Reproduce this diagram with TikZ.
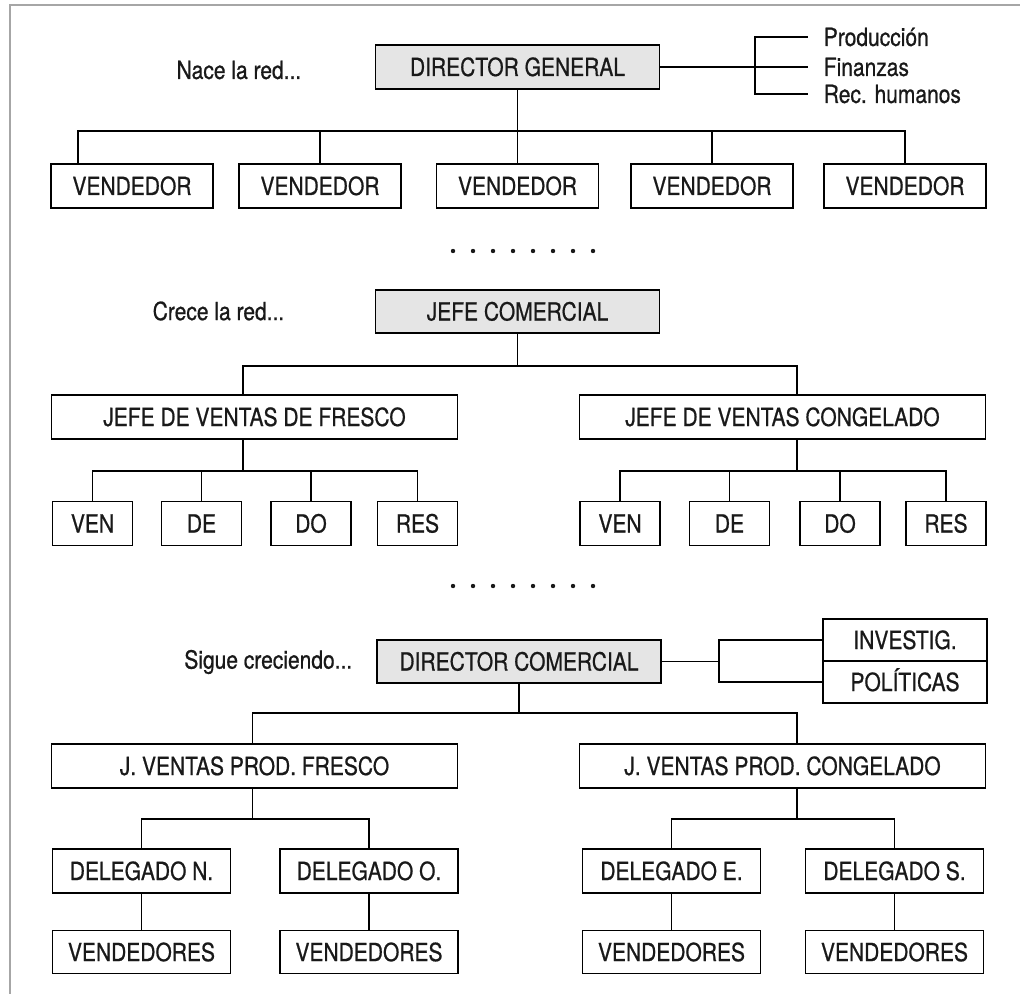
\documentclass[tikz,border=0pt]{standalone}
\usepackage{fontspec}
\setmainfont{TeX Gyre Heros}[FakeStretch=0.84, FakeBold=0.7]
\usepackage{tikz}
\usetikzlibrary{positioning,calc}

\begin{document}
\begin{tikzpicture}[
  x=0.5pt, y=-0.5pt,
  font=\fontsize{12.5}{15}\selectfont,
  line width=0.8pt,
  box/.style={draw, inner sep=0pt, text height=9pt, text depth=0pt, minimum height=22pt, text=black!90},
  cargo/.style={box, fill=black!10, minimum width=142pt},
  vend/.style={box, minimum width=81pt},
  jefe/.style={box, minimum width=203pt},
  sub/.style={box, minimum width=40pt},
  deleg/.style={box, minimum width=89pt},
  staff/.style={box, minimum width=82pt, minimum height=21pt},
  lbl/.style={anchor=east, inner sep=0pt, text=black!90},
  sidetx/.style={anchor=west, inner xsep=7.5pt, inner ysep=0pt, text=black!90},
]
\useasboundingbox (0,0) rectangle (1020,994);
\draw[black!35, line width=1pt] (1020,5) -- (10,5) -- (10,994);

% Nace la red
\node[lbl] (nace) at (302,70) {Nace la red...};
\node[cargo] (dg) at (517.5,67) {DIRECTOR GENERAL};
\coordinate (sj) at (755,67);
\node[sidetx] (prod) at (808,37) {Producción};
\node[sidetx] (fin) at (808,67) {Finanzas};
\node[sidetx] (rec) at (808,94) {Rec. humanos};
\draw (dg.east) -- (sj);
\foreach \n in {prod,fin,rec} { \draw (sj) |- (\n.west); }

\node[vend] (v1) at (132,186) {VENDEDOR};
\node[vend] (v2) at (320,186) {VENDEDOR};
\node[vend] (v3) at (517.5,186) {VENDEDOR};
\node[vend] (v4) at (712,186) {VENDEDOR};
\node[vend] (v5) at (905,186) {VENDEDOR};
\draw (dg.south) -- ++(0,41) -| ([xshift=-27pt]v1.north);
\foreach \n in {v2,v3,v4,v5} { \draw (dg.south) -- ++(0,41) -| (\n.north); }

\foreach \i in {0,...,7} { \fill[black!90] (453+20*\i,251) circle (1.1pt); }

% Crece la red
\node[lbl] (crece) at (285,311) {Crece la red...};
\node[cargo, minimum height=21.5pt] (jc) at (517.5,311.5) {JEFE COMERCIAL};
\node[jefe] (jvf) at (254.5,417) {JEFE DE VENTAS DE FRESCO};
\node[jefe] (jvc) at (782.5,417) {JEFE DE VENTAS CONGELADO};
\draw (jc.south) -- ++(0,32) -| ([xshift=-5.75pt]jvf.north);
\draw (jc.south) -- ++(0,32) -| ([xshift=7.25pt]jvc.north);

\node[sub] (fv1) at (92.5,523.5) {VEN};
\node[sub] (fv2) at (201.5,523.5) {DE};
\node[sub] (fv3) at (311,523.5) {DO};
\node[sub] (fv4) at (417.5,523.5) {RES};
\node[sub] (cv1) at (620,523.5) {VEN};
\node[sub] (cv2) at (729.5,523.5) {DE};
\node[sub] (cv3) at (840,523.5) {DO};
\node[sub] (cv4) at (946,523.5) {RES};
\foreach \n in {fv1,fv2,fv3,fv4} { \draw ([xshift=-5.75pt]jvf.south) -- ++(0,31) -| (\n.north); }
\foreach \n in {cv1,cv2,cv3,cv4} { \draw ([xshift=7.25pt]jvc.south) -- ++(0,31) -| (\n.north); }

\foreach \i in {0,...,7} { \fill[black!90] (453+20*\i,586) circle (1.1pt); }

% Sigue creciendo
\node[lbl] (sigue) at (353,662) {Sigue creciendo...};
\node[cargo, minimum height=21.5pt] (dc) at (519,661.5) {DIRECTOR COMERCIAL};
\coordinate (sk) at (719,661.5);
\node[staff] (inv) at (905,640) {INVESTIG.};
\node[staff] (pol) at (905,682) {POLÍTICAS};
\draw (dc.east) -- (sk);
\foreach \n in {inv,pol} { \draw (sk) |- (\n.west); }

\node[jefe] (jpf) at (254.5,766) {J. VENTAS PROD. FRESCO};
\node[jefe] (jpc) at (782.5,766) {J. VENTAS PROD. CONGELADO};
\draw (dc.south) -- ++(0,29) -| ([xshift=-1pt]jpf.north);
\draw (dc.south) -- ++(0,29) -| ([xshift=7.25pt]jpc.north);

\node[deleg] (dN) at (141.5,871) {DELEGADO N.};
\node[deleg] (dO) at (369,871) {DELEGADO O.};
\node[deleg] (dE) at (671.5,871) {DELEGADO E.};
\node[deleg] (dS) at (894.5,871) {DELEGADO S.};
\foreach \n in {dN,dO} { \draw ([xshift=-1pt]jpf.south) -- ++(0,30) -| (\n.north); }
\foreach \n in {dE,dS} { \draw ([xshift=7.25pt]jpc.south) -- ++(0,30) -| (\n.north); }

\foreach \n in {dN,dO,dE,dS} {
  \node[deleg, minimum height=21.5pt, below=18pt of \n] (vd\n) {VENDEDORES};
  \draw (\n) -- (vd\n);
}
\end{tikzpicture}
\end{document}
